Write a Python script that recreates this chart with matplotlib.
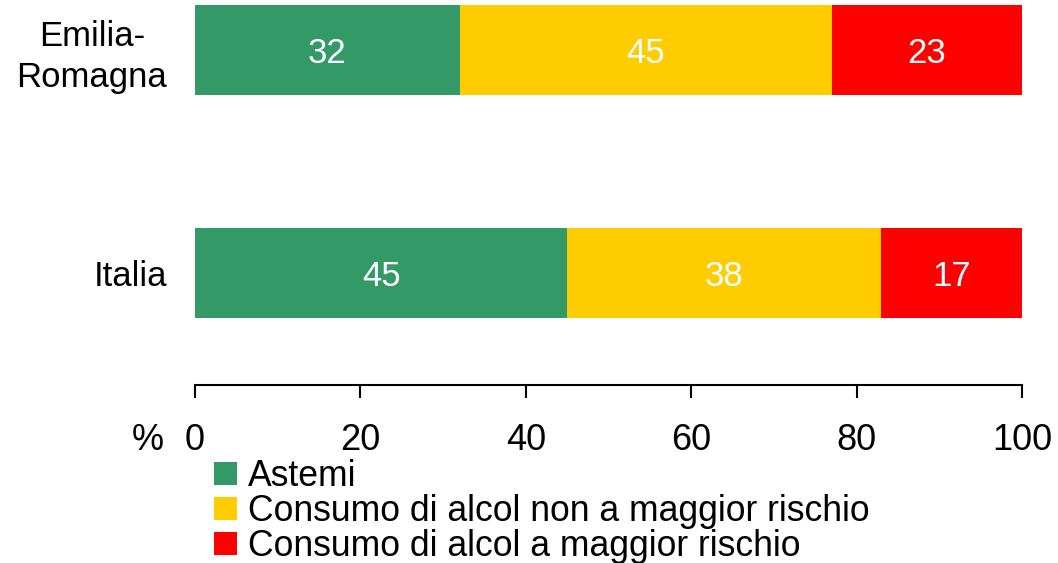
import matplotlib
matplotlib.use("Agg")
import matplotlib.pyplot as plt
from matplotlib.patches import Patch

plt.rcParams['font.family'] = ['Liberation Sans', 'DejaVu Sans']

categories = ["Italia", "Emilia-\nRomagna"]
series_names = ["Astemi", "Consumo di alcol non a maggior rischio", "Consumo di alcol a maggior rischio"]
astemi = [45, 32]
non_rischio = [38, 45]
rischio = [17, 23]
colors = ["#339966", "#FFCC00", "#FF0000"]
xticks = [0, 20, 40, 60, 80, 100]

fig = plt.figure(figsize=(10.58, 5.63), dpi=100)
ax = fig.add_axes([195/1058, 1 - 385/563, (1022-195)/1058, 385/563])

ypos = list(range(len(categories)))
left = [0] * len(categories)
for vals, col in zip([astemi, non_rischio, rischio], colors):
    ax.barh(ypos, vals, left=left, height=0.4, color=col, edgecolor='none')
    for y, l, v in zip(ypos, left, vals):
        ax.text(l + v / 2, y, str(v), ha='center', va='center_baseline', color='white', fontsize=25)
    left = [a + b for a, b in zip(left, vals)]

ax.set_xlim(0, 100)
ax.set_ylim(-0.502, 1.224)
ax.set_yticks(ypos)
ax.set_yticklabels(categories, fontsize=25, linespacing=1.3, multialignment='center')
ax.tick_params(axis='y', length=0, pad=20)
ax.set_xticks(xticks)
ax.set_xticklabels([str(t) for t in xticks], fontsize=26)
ax.tick_params(axis='x', direction='out', length=9, width=1.5, pad=18)
for s in ['top', 'right', 'left']:
    ax.spines[s].set_visible(False)
ax.spines['bottom'].set_linewidth(1.5)

fig.text(148/1058, 1 - 440/563, "%", ha='center', va='center', fontsize=26)

handles = [Patch(facecolor=c, edgecolor='none') for c in colors]
fig.legend(handles, series_names, loc='upper left', bbox_to_anchor=(214/1058, 1 - 459/563),
           frameon=False, fontsize=25.6, handlelength=0.65, handleheight=0.65,
           handletextpad=0.3, labelspacing=0.0, borderpad=0, borderaxespad=0)

fig.savefig("out.png", dpi=100)
